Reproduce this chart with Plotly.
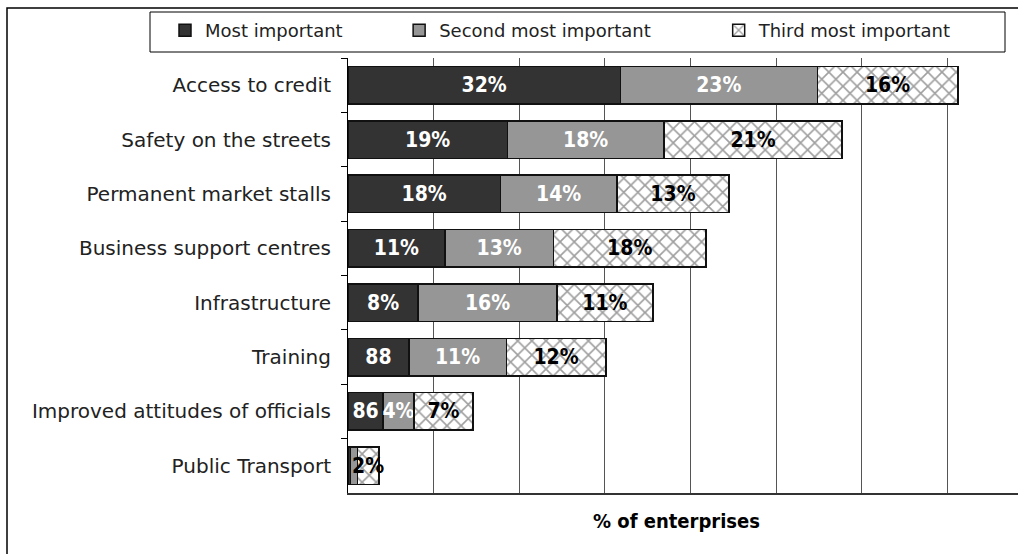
import plotly.graph_objects as go

categories = ["Access to credit", "Safety on the streets", "Permanent market stalls",
              "Business support centres", "Infrastructure", "Training",
              "Improved attitudes of officials", "Public Transport"]
most_important = [31.8, 18.6, 17.8, 11.3, 8.2, 7.1, 4.1, 0.3]
second_important = [23.0, 18.3, 13.6, 12.7, 16.2, 11.4, 3.6, 0.8]
third_important = [16.4, 20.8, 13.1, 17.8, 11.2, 11.6, 6.9, 2.5]
most_labels = ["32%", "19%", "18%", "11%", "8%", "88", "86", ""]
second_labels = ["23%", "18%", "14%", "13%", "16%", "11%", "4%", ""]
third_labels = ["16%", "21%", "13%", "18%", "11%", "12%", "7%", "2%"]
series_names = ["Most important", "Second most important", "Third most important"]

LBL_FONT = "DejaVu Sans Condensed, Liberation Sans Narrow, sans-serif"
TXT_FONT = "DejaVu Sans, sans-serif"
NB = "\u00a0"

fig = go.Figure()
common = dict(orientation="h", textposition="inside", insidetextanchor="middle",
              constraintext="none", textangle=0, cliponaxis=False)
fig.add_trace(go.Bar(
    y=categories, x=most_important, name=series_names[0] + NB * 9, text=most_labels,
    marker=dict(color="#333333", line=dict(color="#111111", width=1.5)),
    textfont=dict(family=LBL_FONT, size=21, color="white", weight="bold"), **common))
fig.add_trace(go.Bar(
    y=categories, x=second_important, name=series_names[1] + NB * 11, text=second_labels,
    marker=dict(color="#969696", line=dict(color="#111111", width=1.5)),
    textfont=dict(family=LBL_FONT, size=21, color="white", weight="bold"), **common))
fig.add_trace(go.Bar(
    y=categories, x=third_important, name=series_names[2], text=third_labels,
    marker=dict(color="white", line=dict(color="#111111", width=1.5),
                pattern=dict(shape="x", fgcolor="#404040", bgcolor="white", size=10, solidity=0.3)),
    textfont=dict(family=LBL_FONT, size=21, color="black", weight="bold"), **common))

W, H = 1018, 554
L, T, B, R = 348, 58, 61, 0
pw, ph = W - L - R, H - T - B
px_per_unit = 85.64 / 10

def px_x(p):
    return (p - L) / pw

def px_y(p):
    return (H - B - p) / ph

fig.update_layout(
    width=W, height=H, barmode="stack", bargap=0.31,
    margin=dict(l=L, r=R, t=T, b=B, pad=0),
    paper_bgcolor="white", plot_bgcolor="white",
    font=dict(family=TXT_FONT, size=20, color="#222222"),
    showlegend=True,
    legend=dict(orientation="h", x=px_x(165), y=px_y(12),
                xanchor="left", yanchor="top", borderwidth=0,
                font=dict(family=TXT_FONT, size=18, color="#222222"),
                traceorder="normal", itemclick=False, bgcolor="rgba(0,0,0,0)"),
    xaxis=dict(range=[0, pw / px_per_unit], dtick=10, showgrid=True, gridcolor="#555555",
               gridwidth=1, showticklabels=False, zeroline=False, showline=True,
               linecolor="#333333", linewidth=2, ticks=""),
    yaxis=dict(autorange="reversed", showline=True, linecolor="black", linewidth=1,
               ticks="outside", tickson="boundaries", ticklen=6, tickcolor="black",
               ticklabelstandoff=12, showgrid=False, zeroline=False,
               tickfont=dict(family=TXT_FONT, size=20, color="#222222")),
    annotations=[dict(text="% of enterprises", xref="x", yref="paper",
                      x=(676 - L) / px_per_unit, y=px_y(521),
                      showarrow=False, xanchor="center", yanchor="middle",
                      font=dict(family=LBL_FONT, size=20, color="black", weight="bold"))],
    shapes=[dict(type="rect", xref="paper", yref="paper",
                 x0=px_x(7), x1=1.1, y0=-0.3, y1=px_y(8),
                 line=dict(color="black", width=1.5), fillcolor="rgba(0,0,0,0)", layer="below"),
            dict(type="rect", xref="paper", yref="paper",
                 x0=px_x(150), x1=px_x(1005), y0=px_y(52), y1=px_y(12),
                 line=dict(color="black", width=1), fillcolor="rgba(0,0,0,0)", layer="above")],
)

fig.write_html("out.html", config={"displayModeBar": False},
               post_script="document.body.style.margin='0';document.body.style.overflow='hidden';")
